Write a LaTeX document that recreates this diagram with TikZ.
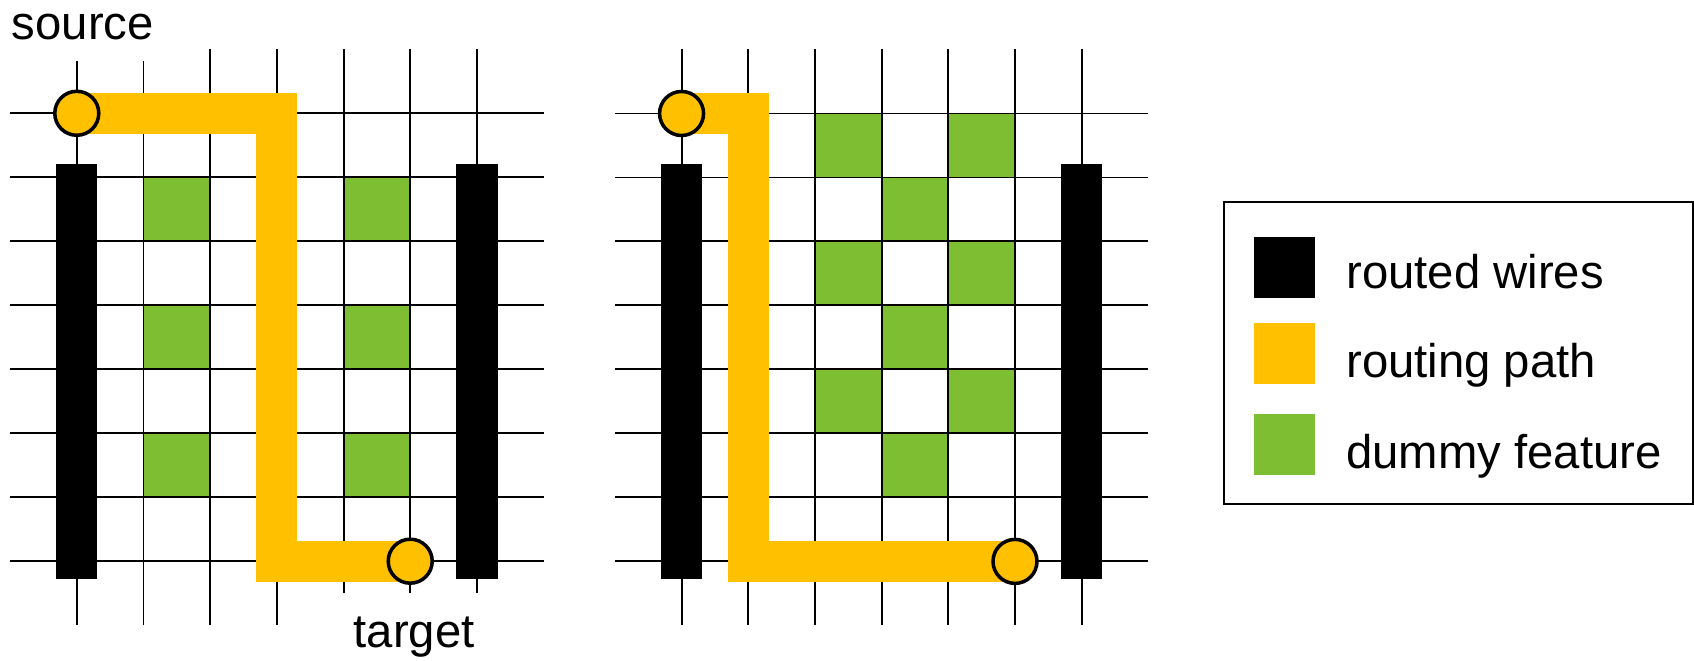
\documentclass[tikz,border=0pt]{standalone}
\usepackage{fontspec}
\setmainfont{Liberation Sans}
\usetikzlibrary{positioning}
\definecolor{gelb}{HTML}{FFC000}
\definecolor{gruen}{HTML}{7DBE33}
\tikzset{
  gitter/.style={black,line width=1.1pt},
  draht/.style={fill=black},
  dummy/.style={fill=gruen},
  pfad/.style={gelb,line width=0.82cm,line join=miter},
  pol/.style={circle,fill=gelb,draw=black,line width=2pt,minimum size=0.88cm,inner sep=0pt},
  beschr/.style={font=\fontsize{26.9}{32}\selectfont,inner sep=0pt},
  legtext/.style={font=\fontsize{26.9}{32}\selectfont,inner sep=0pt,anchor=base west},
  legfeld/.style={minimum size=1.22cm,inner sep=0pt},
}

\begin{document}
\begin{tikzpicture}[x=0.02cm,y=-0.02cm]
  \useasboundingbox (0,0) rectangle (1694,660);
  % linkes Raster
  \begin{scope}[xshift=1.536cm,yshift=-2.266cm,x=1.334cm,y=-1.28cm]
    \foreach \r in {1,3,5} \fill[dummy] (1,\r) rectangle (2,\r+1) (4,\r) rectangle (5,\r+1);
    \foreach \r in {0,...,7} \draw[gitter] (-1,\r) -- (7,\r);
    \foreach \c in {0,1} \draw[gitter] (\c,-0.82) -- (\c,8);
    \foreach \c in {2,3} \draw[gitter] (\c,-1) -- (\c,8);
    \foreach \c in {4,5,6} \draw[gitter] (\c,-1) -- (\c,7.5);
    \fill[draht] (-0.31,0.79) rectangle (0.31,7.28);
    \fill[draht] (5.69,0.79) rectangle (6.31,7.28);
    \coordinate (qA) at (0,0);
    \coordinate (zA) at (5,7);
    \draw[pfad] (qA) -| (3,7) -- (zA);
    \node[pol] (quelleA) at (qA) {};
    \node[pol] (zielA) at (zA) {};
    \node[beschr,above=0.99cm of quelleA,xshift=0.12cm] (txtQ) {source};
    \node[beschr,below=0.64cm of zielA,xshift=0.08cm] (txtZ) {target};
  \end{scope}
  % rechtes Raster
  \begin{scope}[xshift=13.634cm,yshift=-2.27cm,x=1.334cm,y=-1.28cm]
    \foreach \r in {0,2,4} \fill[dummy] (2,\r) rectangle (3,\r+1) (4,\r) rectangle (5,\r+1);
    \foreach \r in {1,3,5} \fill[dummy] (3,\r) rectangle (4,\r+1);
    \foreach \r in {0,...,7} \draw[gitter] (-1,\r) -- (7,\r);
    \foreach \c in {0,...,6} \draw[gitter] (\c,-1) -- (\c,8);
    \fill[draht] (-0.31,0.79) rectangle (0.31,7.28);
    \fill[draht] (5.69,0.79) rectangle (6.31,7.28);
    \coordinate (qB) at (0,0);
    \coordinate (zB) at (5,7);
    \draw[pfad] (qB) -| (1,7) -- (zB);
    \node[pol] (quelleB) at (qB) {};
    \node[pol] (zielB) at (zB) {};
  \end{scope}
  % Legende
  \draw[line width=0.8pt] (1224,202) rectangle (1693,504);
  \node[legfeld,fill=black] (feldA) at (1284.5,267.3) {};
  \node[legfeld,fill=gelb] (feldB) at (1284.5,353.3) {};
  \node[legfeld,fill=gruen] (feldC) at (1284.5,444.3) {};
  \node[legtext] (textA) at (1346,288.3) {routed wires};
  \node[legtext] (textB) at (1346,377.7) {routing path};
  \node[legtext] (textC) at (1346,468.3) {dummy feature};
\end{tikzpicture}
\end{document}
